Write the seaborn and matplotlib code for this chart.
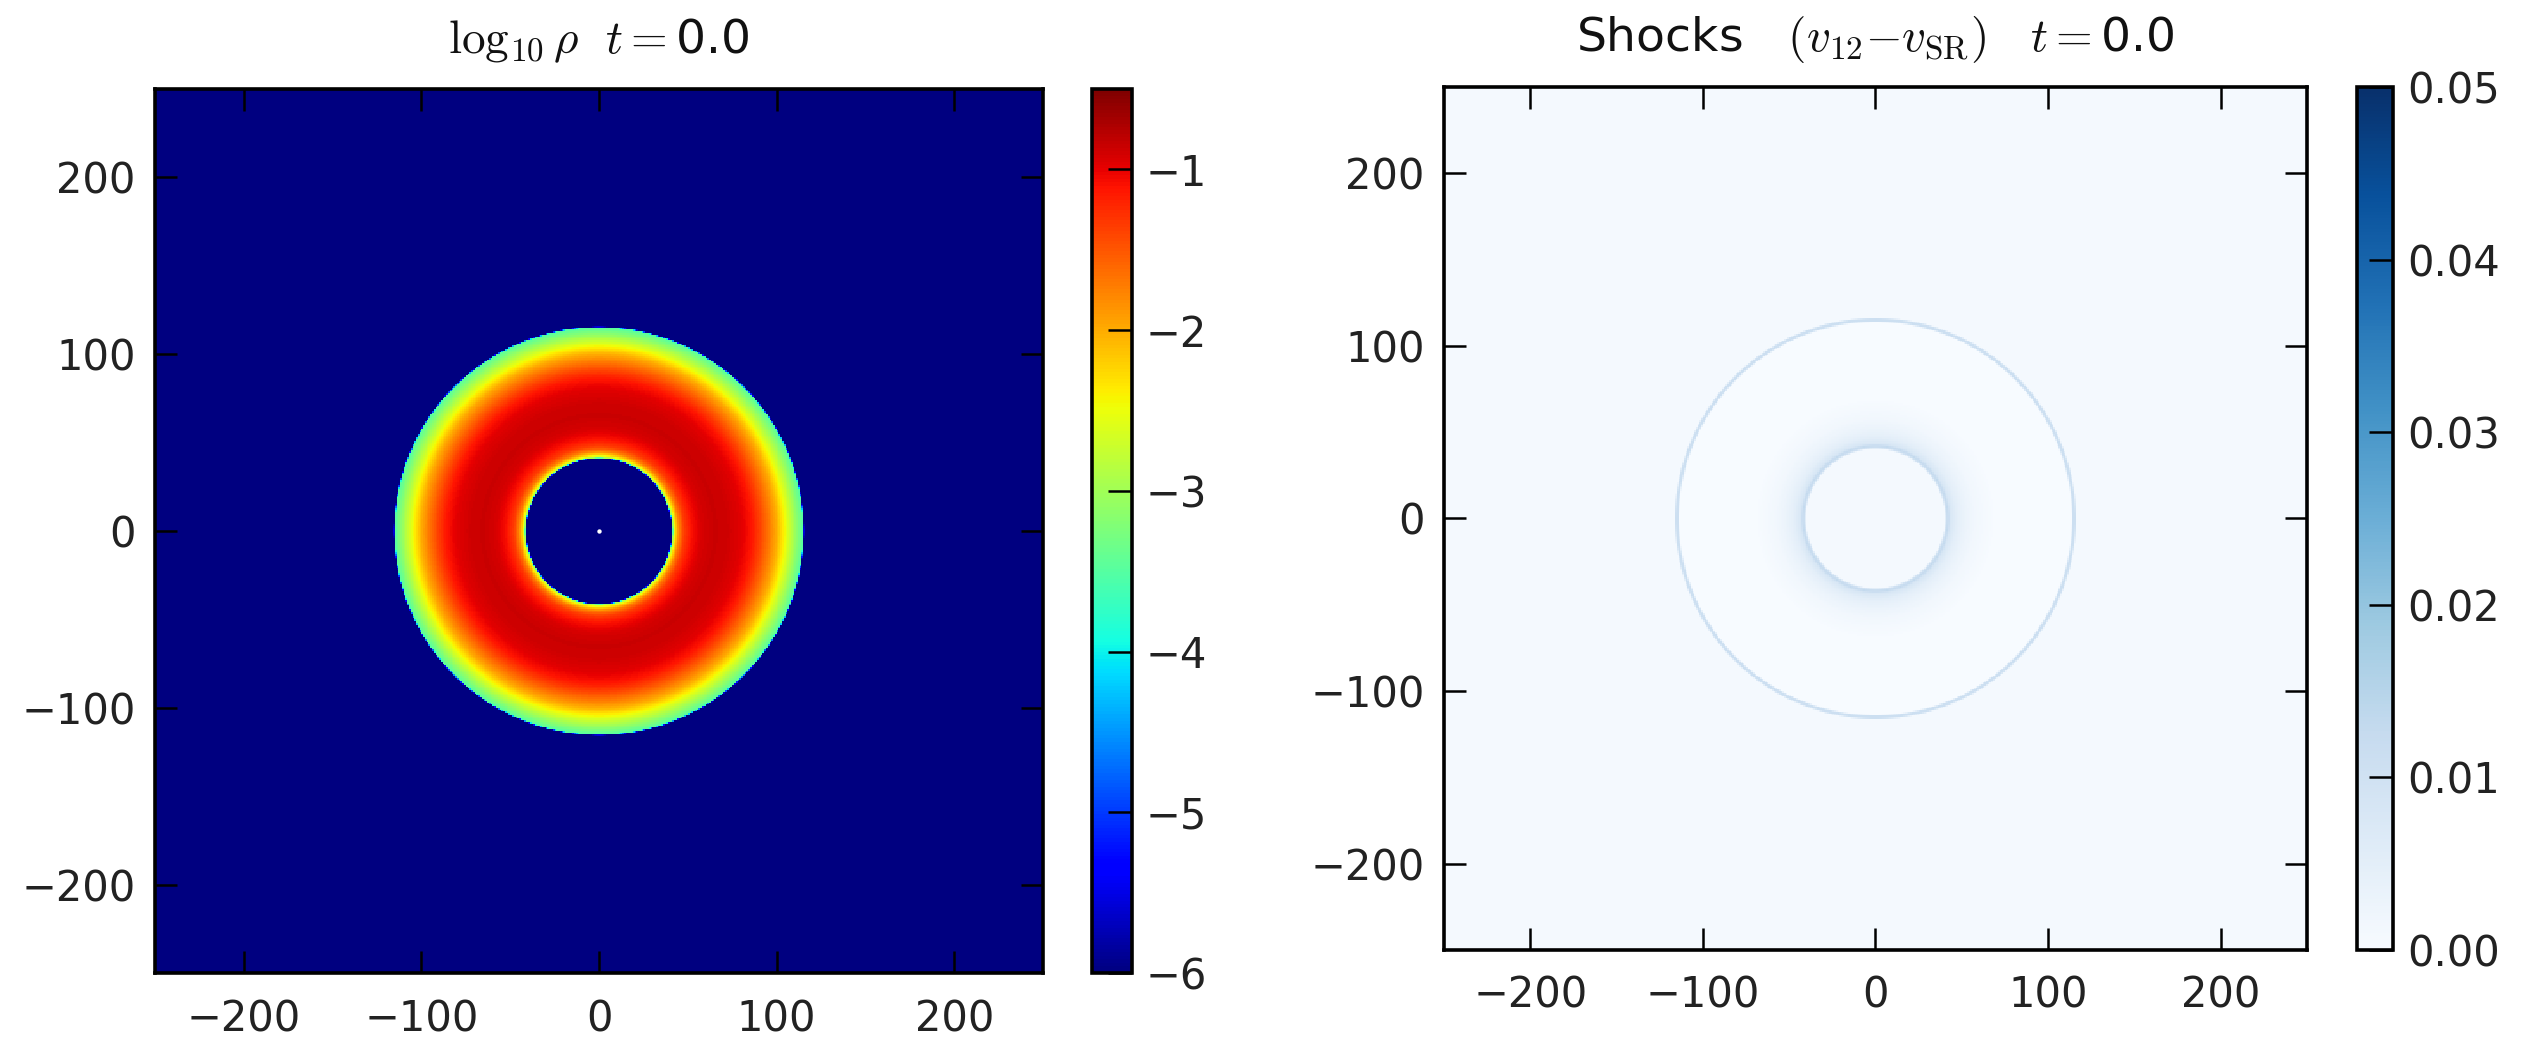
import numpy as np
import pandas as pd
import matplotlib
matplotlib.use("Agg")
import matplotlib.pyplot as plt
import seaborn as sns

# ---------------- data ----------------
# radial profile of log10(rho) for the torus (radius in code units)
rho_r = [0.0, 41.0, 41.6, 43.0, 45.0, 48.0, 52.0, 58.0, 65.0, 72.0, 80.0,
         86.0, 91.0, 96.0, 100.0, 104.0, 108.0, 112.0, 115.0, 115.6, 400.0]
rho_v = [-6.0, -6.0, -3.0, -2.3, -1.75, -1.35, -1.1, -0.92, -0.86, -0.88, -0.97,
         -1.12, -1.4, -1.72, -2.0, -2.4, -2.8, -3.2, -3.5, -6.0, -6.0]

# radial profile of the shock indicator (v12 - vSR)
shock_r = [0.0, 40.0, 41.0, 42.0, 43.5, 47.0, 52.0, 58.0, 70.0, 113.5, 114.5, 115.5, 116.5, 400.0]
shock_v = [0.0008, 0.0008, 0.010, 0.013, 0.008, 0.005, 0.003, 0.0015, 0.0, 0.0, 0.011, 0.011, 0.0008, 0.0008]

center_x = [0.0]
center_y = [0.0]

ticks_xy = [-200, -100, 0, 100, 200]
rho_ticks = [-1, -2, -3, -4, -5, -6]
shock_ticks = [0.00, 0.01, 0.02, 0.03, 0.04, 0.05]

extent = 250.0
ncell = 500
time_label = "0.0"

# ---------------- grid ----------------
cell = 2 * extent / ncell
xc = -extent + cell * (np.arange(ncell) + 0.5)
yc = extent - cell * (np.arange(ncell) + 0.5)          # rows from top to bottom
X, Y = np.meshgrid(xc, yc)
R = np.hypot(X, Y)
rho = np.interp(R, rho_r, rho_v)
shock = np.interp(R, shock_r, shock_v)
rho_df = pd.DataFrame(rho, index=np.round(yc, 2), columns=np.round(xc, 2))
shock_df = pd.DataFrame(shock, index=np.round(yc, 2), columns=np.round(xc, 2))

def xpos(v):
    return (np.asarray(v) + extent) / cell

def ypos(v):
    return (extent - np.asarray(v)) / cell

# ---------------- style ----------------
sns.set_theme(style="white")
plt.rcParams["font.family"] = ["DejaVu Sans"]
plt.rcParams["mathtext.fontset"] = "cm"
plt.rcParams["axes.unicode_minus"] = True

FS = 30
TFS = 34
TICKLEN = 16
TICKW = 1.8
FRAMEW = 2.6

fig = plt.figure(figsize=(25.36, 10.38), dpi=100)
fig.patch.set_facecolor("white")

ax1 = fig.add_axes([0.0611, 0.0626, 0.3502, 0.8516])
cax1 = fig.add_axes([0.4306, 0.0626, 0.0158, 0.8516])
ax2 = fig.add_axes([0.5694, 0.0848, 0.3403, 0.8314])
cax2 = fig.add_axes([0.9294, 0.0848, 0.0142, 0.8314])

sns.heatmap(rho_df, ax=ax1, cbar_ax=cax1, cmap="jet", vmin=-6, vmax=-0.5,
            xticklabels=False, yticklabels=False, rasterized=True)
sns.heatmap(shock_df, ax=ax2, cbar_ax=cax2, cmap="Blues", vmin=0.0, vmax=0.05,
            xticklabels=False, yticklabels=False, rasterized=True)

ax1.scatter(xpos(center_x), ypos(center_y), s=10, color="white", zorder=5, linewidths=0)

def style_axes(ax):
    ax.set_axisbelow(False)
    ax.set_xlabel("")
    ax.set_ylabel("")
    ax.set_xticks(xpos(ticks_xy))
    ax.set_xticklabels([f"{t}".replace("-", "\u2212") for t in ticks_xy])
    ax.set_yticks(ypos(ticks_xy))
    ax.set_yticklabels([f"{t}".replace("-", "\u2212") for t in ticks_xy], rotation=0)
    ax.set_xlim(0, ncell)
    ax.set_ylim(ncell, 0)
    for s in ax.spines.values():
        s.set_visible(True)
        s.set_color("black")
        s.set_linewidth(FRAMEW)
        s.set_zorder(6)
    ax.tick_params(axis="both", which="major", direction="in", length=TICKLEN,
                   width=TICKW, color="black", labelsize=FS, labelcolor="#222222",
                   top=True, right=True, bottom=True, left=True, pad=14)
    ax.tick_params(axis="x", pad=18)

style_axes(ax1)
style_axes(ax2)

def style_cbar(cb, cax, ticks, labels):
    cax.set_axisbelow(False)
    cb.outline.set_visible(True)
    cb.outline.set_linewidth(FRAMEW)
    cb.outline.set_edgecolor("black")
    cb.set_ticks(ticks)
    cb.set_ticklabels(labels)
    cax.tick_params(axis="y", direction="in", length=17, width=TICKW, color="black",
                    labelsize=FS, labelcolor="#222222", right=True, left=False, pad=10)

cb1 = ax1.collections[0].colorbar
style_cbar(cb1, cax1, rho_ticks, [f"{t}".replace("-", "\u2212") for t in rho_ticks])

cb2 = ax2.collections[0].colorbar
style_cbar(cb2, cax2, shock_ticks, [f"{t:.2f}" for t in shock_ticks])

ax1.set_title(r"$\log_{10}\rho\ \ t=$" + time_label, fontsize=TFS, pad=26, color="#111111")
ax2.set_title(r"Shocks   $(v_{12}{-}v_{\rm SR})\ \ \ t=$" + time_label, fontsize=TFS, pad=26,
              color="#111111")

fig.savefig("out.png", dpi=100, facecolor="white")
